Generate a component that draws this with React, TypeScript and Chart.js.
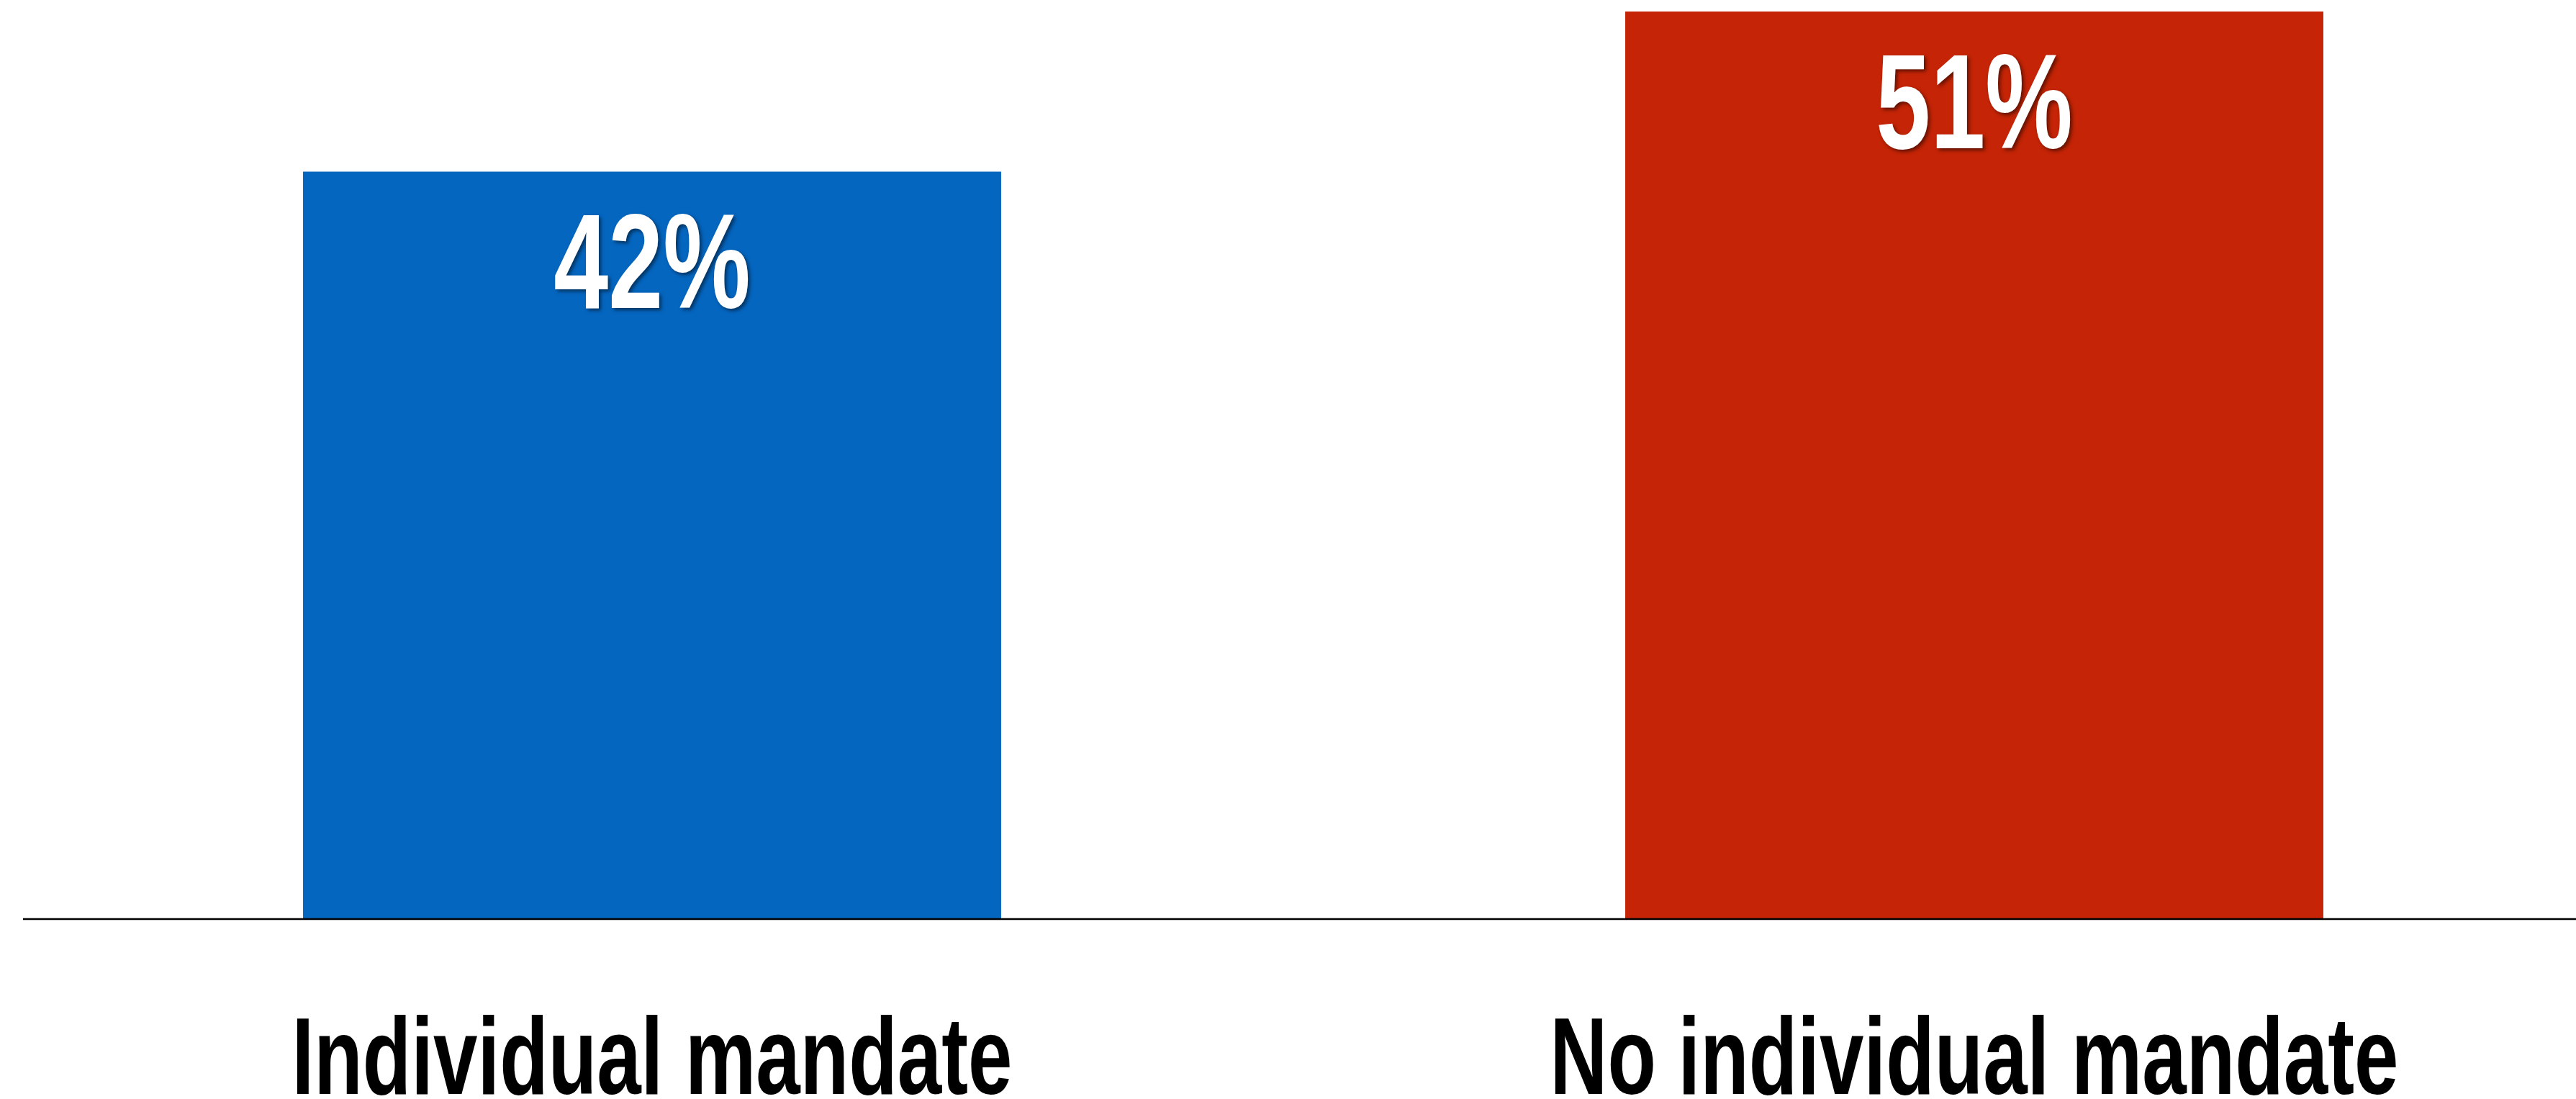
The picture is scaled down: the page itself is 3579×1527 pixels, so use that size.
import React, { useEffect, useRef } from "react";
import { Chart, registerables } from "chart.js";

Chart.register(...registerables);

const categories = ["Individual mandate", "No individual mandate"];
const values = [42, 51];
const valueLabels = ["42%", "51%"];
const barColors = ["#0566C0", "#C52406"];

const FONT = '"Liberation Sans", Arial, sans-serif';
const CONDENSE = 0.727;
const W = 3579;
const H = 1527;

export default function App() {
  const ref = useRef<HTMLCanvasElement>(null);

  useEffect(() => {
    const canvas = ref.current!;
    const labelsPlugin = {
      id: "customLabels",
      afterDatasetsDraw(chart: any) {
        const ctx = chart.ctx as CanvasRenderingContext2D;
        const meta = chart.getDatasetMeta(0);
        const xScale = chart.scales.x;
        const area = chart.chartArea;

        // baseline axis
        ctx.save();
        ctx.strokeStyle = "#000";
        ctx.lineWidth = 2.5;
        ctx.beginPath();
        ctx.moveTo(32, area.bottom + 1);
        ctx.lineTo(chart.width, area.bottom + 1);
        ctx.stroke();
        ctx.restore();

        // value labels inside bars
        meta.data.forEach((bar: any, i: number) => {
          ctx.save();
          ctx.translate(bar.x, bar.y + 190);
          ctx.scale(CONDENSE, 1);
          ctx.font = `bold 188px ${FONT}`;
          ctx.textAlign = "center";
          ctx.textBaseline = "alphabetic";
          ctx.shadowColor = "rgba(0,0,0,0.5)";
          ctx.shadowOffsetX = 3;
          ctx.shadowOffsetY = 3;
          ctx.shadowBlur = 5;
          ctx.fillStyle = "#ffffff";
          ctx.fillText(valueLabels[i], 0, 0);
          ctx.restore();
        });

        // category labels
        categories.forEach((c, i) => {
          ctx.save();
          ctx.translate(xScale.getPixelForValue(i), area.bottom + 244);
          ctx.scale(CONDENSE, 1);
          ctx.font = `bold 152px ${FONT}`;
          ctx.textAlign = "center";
          ctx.textBaseline = "alphabetic";
          ctx.fillStyle = "#000000";
          ctx.fillText(c, 0, 0);
          ctx.restore();
        });
      },
    };

    const chart = new Chart(canvas, {
      type: "bar",
      data: {
        labels: categories,
        datasets: [
          {
            data: values,
            backgroundColor: barColors,
            borderWidth: 0,
            categoryPercentage: 1,
            barPercentage: 0.528,
            clip: false,
          } as any,
        ],
      },
      options: {
        animation: false,
        responsive: false,
        devicePixelRatio: 1,
        layout: { padding: { left: 906, right: 836, top: 0, bottom: 251 } },
        plugins: { legend: { display: false }, tooltip: { enabled: false } },
        scales: {
          x: { display: false, offset: false },
          y: { display: false, min: 0, max: 51.65 },
        },
      },
      plugins: [labelsPlugin],
    });
    return () => chart.destroy();
  }, []);

  return (
    <div
      style={{
        position: "fixed",
        left: 0,
        top: 0,
        width: W,
        height: H,
        overflow: "hidden",
        background: "#ffffff",
      }}
    >
      <canvas ref={ref} width={W} height={H} style={{ display: "block" }} />
    </div>
  );
}
